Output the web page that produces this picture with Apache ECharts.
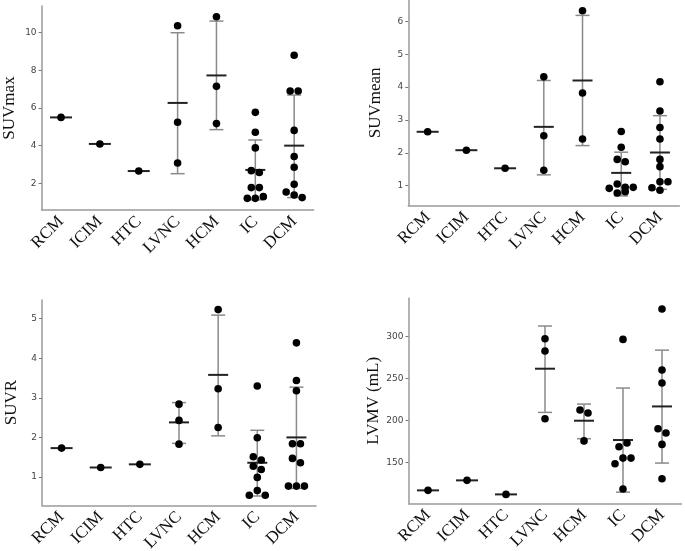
<!DOCTYPE html>
<html><head><meta charset="utf-8">
<script src="https://cdn.jsdelivr.net/npm/echarts@6/dist/echarts.min.js"></script>
<style>html,body{margin:0;padding:0;background:#fff}#c{width:685px;height:551px}</style>
</head><body><div id="c"></div>
<script>
const categories = ['RCM','ICIM','HTC','LVNC','HCM','IC','DCM'];

// Panel 1: SUVmax
const suvmaxPoints = [[5.50],[4.09],[2.65],[10.37,5.24,3.08],[10.85,7.15,5.17],
  [5.77,4.71,3.88,2.67,2.57,1.77,1.77,1.20,1.20,1.29],
  [8.80,6.90,6.90,4.81,3.42,2.85,1.95,1.54,1.38,1.24]];
const suvmaxMean = [5.50,4.09,2.65,6.27,7.73,2.71,4.00];
const suvmaxSdLow = [null,null,null,2.51,4.85,1.12,1.24];
const suvmaxSdHigh = [null,null,null,10.00,10.62,4.30,6.69];
const suvmaxTicks = [2,4,6,8,10];

// Panel 2: SUVmean
const suvmeanPoints = [[2.64],[2.08],[1.53],[4.31,2.52,1.47],[6.32,3.82,2.42],
  [2.65,2.17,1.80,1.73,0.92,1.05,0.95,0.95,0.78,0.82],
  [4.16,3.27,2.77,2.42,1.80,1.58,0.94,1.12,1.12,0.86]];
const suvmeanMean = [2.64,2.08,1.53,2.79,4.20,1.39,2.01];
const suvmeanSdLow = [null,null,null,1.33,2.22,0.69,0.89];
const suvmeanSdHigh = [null,null,null,4.20,6.18,2.02,3.13];
const suvmeanTicks = [1,2,3,4,5,6];

// Panel 3: SUVR
const suvrPoints = [[1.73],[1.24],[1.32],[2.84,2.43,1.83],[5.23,3.23,2.25],
  [3.30,1.99,1.51,1.43,1.27,1.19,0.99,0.54,0.66,0.54],
  [4.39,3.44,3.18,1.84,1.84,1.47,1.36,0.77,0.77,0.77]];
const suvrMean = [1.73,1.24,1.32,2.38,3.58,1.36,2.00];
const suvrSdLow = [null,null,null,1.85,2.04,0.52,0.71];
const suvrSdHigh = [null,null,null,2.88,5.09,2.18,3.27];
const suvrTicks = [1,2,3,4,5];

// Panel 4: LVMV (mL)
const lvmvPoints = [[117.1],[129.0],[112.3],[297.6,282.9,202.4],[212.7,209.1,176.0],
  [296.8,169.0,173.4,148.8,155.5,155.5,118.7],
  [332.9,260.3,244.8,190.5,185.3,171.8,130.9]];
const lvmvMean = [117.1,129.0,112.3,261.9,200.0,177.0,217.0];
const lvmvSdLow = [null,null,null,209.9,178.6,115.0,149.6];
const lvmvSdHigh = [null,null,null,312.7,219.8,238.9,284.0];
const lvmvTicks = [150,200,250,300];

const panels = [
  {name:'SUVmax', pts:suvmaxPoints, mean:suvmaxMean, lo:suvmaxSdLow, hi:suvmaxSdHigh, ticks:suvmaxTicks,
   grid:{left:41.6, top:6, width:272, height:204}, min:0.58, max:11.42, gap:24},
  {name:'SUVmean', pts:suvmeanPoints, mean:suvmeanMean, lo:suvmeanSdLow, hi:suvmeanSdHigh, ticks:suvmeanTicks,
   grid:{left:408.3, top:0, width:271, height:205.7}, min:0.392, max:6.648, gap:24},
  {name:'SUVR', pts:suvrPoints, mean:suvrMean, lo:suvrSdLow, hi:suvrSdHigh, ticks:suvrTicks,
   grid:{left:42, top:300, width:274, height:205.3}, min:0.285, max:5.472, gap:22},
  {name:'LVMV (mL)', pts:lvmvPoints, mean:lvmvMean, lo:lvmvSdLow, hi:lvmvSdHigh, ticks:lvmvTicks,
   grid:{left:408.5, top:298.3, width:273, height:205}, min:101.7, max:345.7, gap:25}
];

const DOT_STEP = 8, ROW_PX = 7;
function swarm(vals, pxPerUnit) {
  const idx = vals.map((v,i)=>i).sort((a,b)=>vals[b]-vals[a]);
  const rows = []; let cur = null;
  idx.forEach(i => {
    if (cur && (vals[cur[0]] - vals[i]) * pxPerUnit <= ROW_PX) cur.push(i);
    else { cur = [i]; rows.push(cur); }
  });
  const off = new Array(vals.length).fill(0);
  rows.forEach(r => { r.sort((a,b)=>a-b); r.forEach((i,k)=>{ off[i] = (k-(r.length-1)/2)*DOT_STEP; }); });
  return off;
}

const grids=[], xAxes=[], yAxes=[], series=[];
const serif = 'Liberation Serif, Times New Roman, serif';
panels.forEach((p, gi) => {
  grids.push(Object.assign({containLabel:false, outerBoundsMode:'none'}, p.grid));
  xAxes.push({gridIndex:gi, type:'category', data:categories,
    axisLine:{onZero:false, lineStyle:{color:'#9a9a9a', width:1.5}},
    axisTick:{show:false}, splitLine:{show:false},
    axisLabel:{interval:0, rotate:45, margin:9, fontFamily:serif, fontSize:17, color:'#111'}});
  yAxes.push({gridIndex:gi, type:'value', min:p.min, max:p.max,
    name:p.name, nameLocation:'middle', nameGap:p.gap,
    nameTextStyle:{fontFamily:serif, fontSize:17, color:'#111'},
    axisLine:{show:true, lineStyle:{color:'#9a9a9a', width:1.5}},
    axisTick:{show:true, length:3, customValues:p.ticks, lineStyle:{color:'#777'}},
    axisLabel:{customValues:p.ticks, fontSize:9, color:'#444', margin:5, fontFamily:'DejaVu Sans'},
    splitLine:{show:false}});
  const ppu = p.grid.height / (p.max - p.min);
  const ptData = [];
  p.pts.forEach((vals, ci) => {
    const off = swarm(vals, ppu);
    vals.forEach((v,i) => ptData.push([ci, v, off[i]]));
  });
  const sdData = [];
  p.lo.forEach((lo, ci) => { if (lo != null) sdData.push([ci, lo, p.hi[ci]]); });
  const meanData = p.mean.map((m, ci) => [ci, m, p.lo[ci] == null ? 1 : 0]);
  series.push({type:'custom', xAxisIndex:gi, yAxisIndex:gi, data:sdData, encode:{x:0, y:[1,2]}, silent:true,
    renderItem(params, api) {
      const a = api.coord([api.value(0), api.value(1)]);
      const b = api.coord([api.value(0), api.value(2)]);
      const st = {stroke:'#8a8a8a', lineWidth:1.5};
      return {type:'group', children:[
        {type:'line', shape:{x1:a[0], y1:a[1], x2:b[0], y2:b[1]}, style:st},
        {type:'line', shape:{x1:a[0]-7, y1:a[1], x2:a[0]+7, y2:a[1]}, style:st},
        {type:'line', shape:{x1:b[0]-7, y1:b[1], x2:b[0]+7, y2:b[1]}, style:st}
      ]};
    }});
  series.push({type:'custom', xAxisIndex:gi, yAxisIndex:gi, data:meanData, encode:{x:0, y:1}, silent:true,
    renderItem(params, api) {
      const c = api.coord([api.value(0), api.value(1)]);
      const hw = api.value(2) ? 11 : 10;
      return {type:'line', shape:{x1:c[0]-hw, y1:c[1], x2:c[0]+hw, y2:c[1]}, style:{stroke:'#222', lineWidth:2}};
    }});
  series.push({type:'custom', xAxisIndex:gi, yAxisIndex:gi, data:ptData, encode:{x:0, y:1}, silent:true,
    renderItem(params, api) {
      const c = api.coord([api.value(0), api.value(1)]);
      return {type:'circle', shape:{cx:c[0] + api.value(2), cy:c[1], r:3.8}, style:{fill:'#000'}};
    }});
});

const chart = echarts.init(document.getElementById('c'), null, {renderer:'canvas'});
chart.setOption({animation:false, backgroundColor:'#fff', grid:grids, xAxis:xAxes, yAxis:yAxes, series});
</script></body></html>
